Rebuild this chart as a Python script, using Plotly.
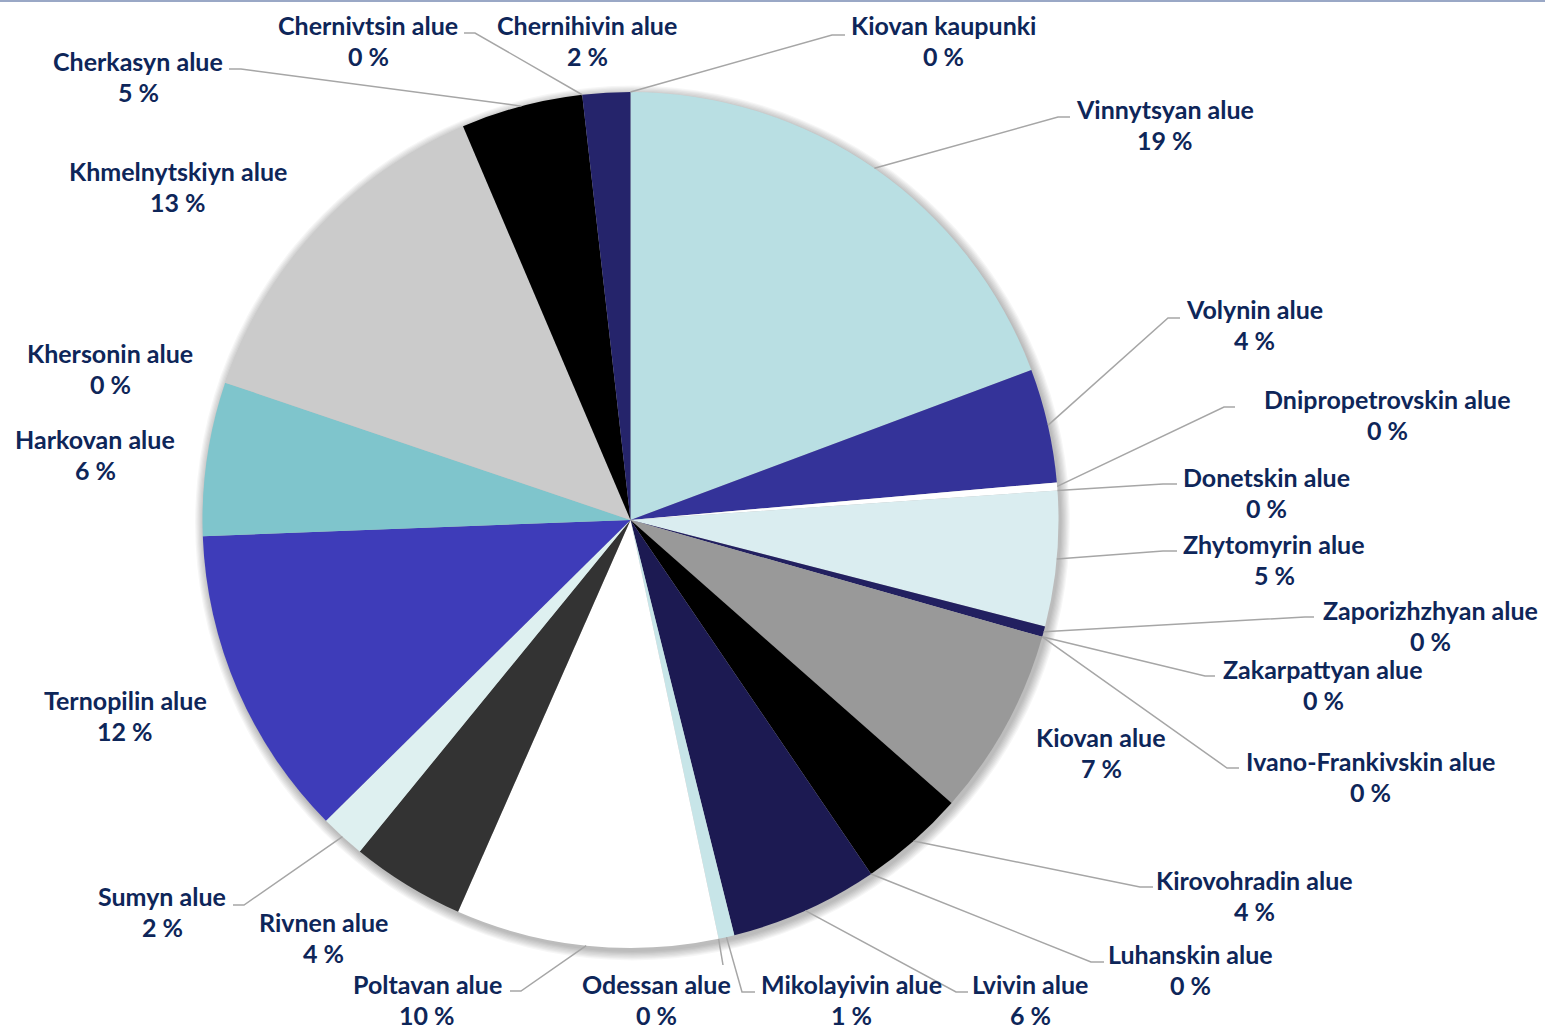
import math
import plotly.graph_objects as go

W, H = 1545, 1030

# regions in clockwise order starting from 12 o'clock
regions = [
    "Kiovan kaupunki", "Vinnytsyan alue", "Volynin alue", "Dnipropetrovskin alue",
    "Donetskin alue", "Zhytomyrin alue", "Zaporizhzhyan alue", "Zakarpattyan alue",
    "Ivano-Frankivskin alue", "Kiovan alue", "Kirovohradin alue", "Luhanskin alue",
    "Lvivin alue", "Mikolayivin alue", "Odessan alue", "Poltavan alue", "Rivnen alue",
    "Sumyn alue", "Ternopilin alue", "Harkovan alue", "Khersonin alue",
    "Khmelnytskiyn alue", "Cherkasyn alue", "Chernivtsin alue", "Chernihivin alue",
]
shares = [
    0.0, 19.3, 4.3, 0.3,
    0.0, 5.1, 0.4, 0.0,
    0.0, 7.1, 4.0, 0.0,
    5.6, 0.6, 0.0, 9.9, 4.3,
    1.7, 11.8, 5.8, 0.0,
    13.4, 4.6, 0.0, 1.8,
]
colors = [
    "#ffffff", "#b9dfe3", "#343399", "#ffffff",
    "#ffffff", "#daedf0", "#222060", "#ffffff",
    "#ffffff", "#999999", "#000000", "#ffffff",
    "#1c1a52", "#c7e5e8", "#ffffff", "#ffffff", "#333333",
    "#def0f0", "#3e3cb9", "#7fc5cc", "#ffffff",
    "#cbcbcb", "#000000", "#ffffff", "#25246b",
]

# label layout (pixel centre of the name line) and leader line elbow (x, y, end_x) or None
label_pos = [
    (943, 25), (1165, 109), (1254, 309), (1387, 399),
    (1266, 477), (1274, 544), (1430, 610), (1323, 669),
    (1370, 761), (1101, 737), (1254, 880), (1190, 954),
    (1030, 984), (851, 984), (656, 984), (427, 984), (323, 922),
    (162, 896), (125, 700), (95, 439), (110, 353),
    (178, 171), (138, 61), (368, 25), (587, 25),
]
leaders = [
    (832, 35, 845), (1058, 117, 1070), (1168, 318, 1180), (1224, 407, 1235),
    (1163, 484, 1177), (1163, 551, 1177), (1305, 617, 1314), (1205, 676, 1215),
    (1227, 768, 1239), None, (1140, 887, 1153), (1091, 962, 1104),
    (956, 992, 968), (742, 992, 755), (723, 965, 723), (521, 991, 510), None,
    (244, 905, 233), None, None, None,
    None, (241, 69, 229), (475, 33, 464), None,
]

CX, CY, R = 630.5, 520, 428
TEXT_COLOR = "#0e2659"
FONT = "Lato"
FONT_SIZE = 25


def px(x):
    return x / W


def py(y):
    return 1 - y / H


fig = go.Figure()

fig.add_trace(go.Pie(
    labels=regions,
    values=shares,
    sort=False,
    direction="clockwise",
    rotation=0,
    textinfo="none",
    hoverinfo="label+percent",
    marker=dict(colors=colors, line=dict(width=0)),
    domain=dict(x=[px(CX - R), px(CX + R)], y=[py(CY + R), py(CY - R)]),
    showlegend=False,
))

shapes = []

# soft shadow round the pie
for i in range(8):
    r = R + 1 + i * 1.2
    sx, sy = CX + 2, CY + 3
    shapes.append(dict(
        type="circle", xref="paper", yref="paper", layer="below",
        x0=px(sx - r), x1=px(sx + r), y0=py(sy + r), y1=py(sy - r),
        fillcolor="rgba(0,0,0,0.035)", line=dict(width=0),
    ))

# thin border at the top of the chart area
shapes.append(dict(type="line", xref="paper", yref="paper", x0=0, x1=1, y0=0.999, y1=0.999,
                   line=dict(color="#9aa8c6", width=2)))

total = sum(shares)
cum = 0.0
annotations = []
for name, val, pos, lead in zip(regions, shares, label_pos, leaders):
    mid = (cum + val / 2) / total * 2 * math.pi
    cum += val
    ax = CX + R * math.sin(mid)
    ay = CY - R * math.cos(mid)
    if lead is not None:
        ex, ey, hx = lead
        shapes.append(dict(
            type="path", xref="paper", yref="paper",
            path="M {} {} L {} {} L {} {}".format(px(ax), py(ay), px(ex), py(ey), px(hx), py(ey)),
            line=dict(color="#a6a6a6", width=1.5),
        ))
    annotations.append(dict(
        x=px(pos[0]), y=py(pos[1]), xref="paper", yref="paper",
        text="<b>{}</b>".format(name), showarrow=False,
        xanchor="center", yanchor="middle",
        font=dict(family=FONT, size=FONT_SIZE, color=TEXT_COLOR),
    ))
    annotations.append(dict(
        x=px(pos[0]), y=py(pos[1] + 31), xref="paper", yref="paper",
        text="<b>{} %</b>".format(round(val)), showarrow=False,
        xanchor="center", yanchor="middle",
        font=dict(family=FONT, size=FONT_SIZE, color=TEXT_COLOR),
    ))

fig.update_layout(
    width=W, height=H,
    margin=dict(l=0, r=0, t=0, b=0),
    paper_bgcolor="white",
    plot_bgcolor="white",
    shapes=shapes,
    annotations=annotations,
)

fig.write_html("out.html", config={"displayModeBar": False},
               post_script="document.body.style.margin='0';document.body.style.overflow='hidden';")
